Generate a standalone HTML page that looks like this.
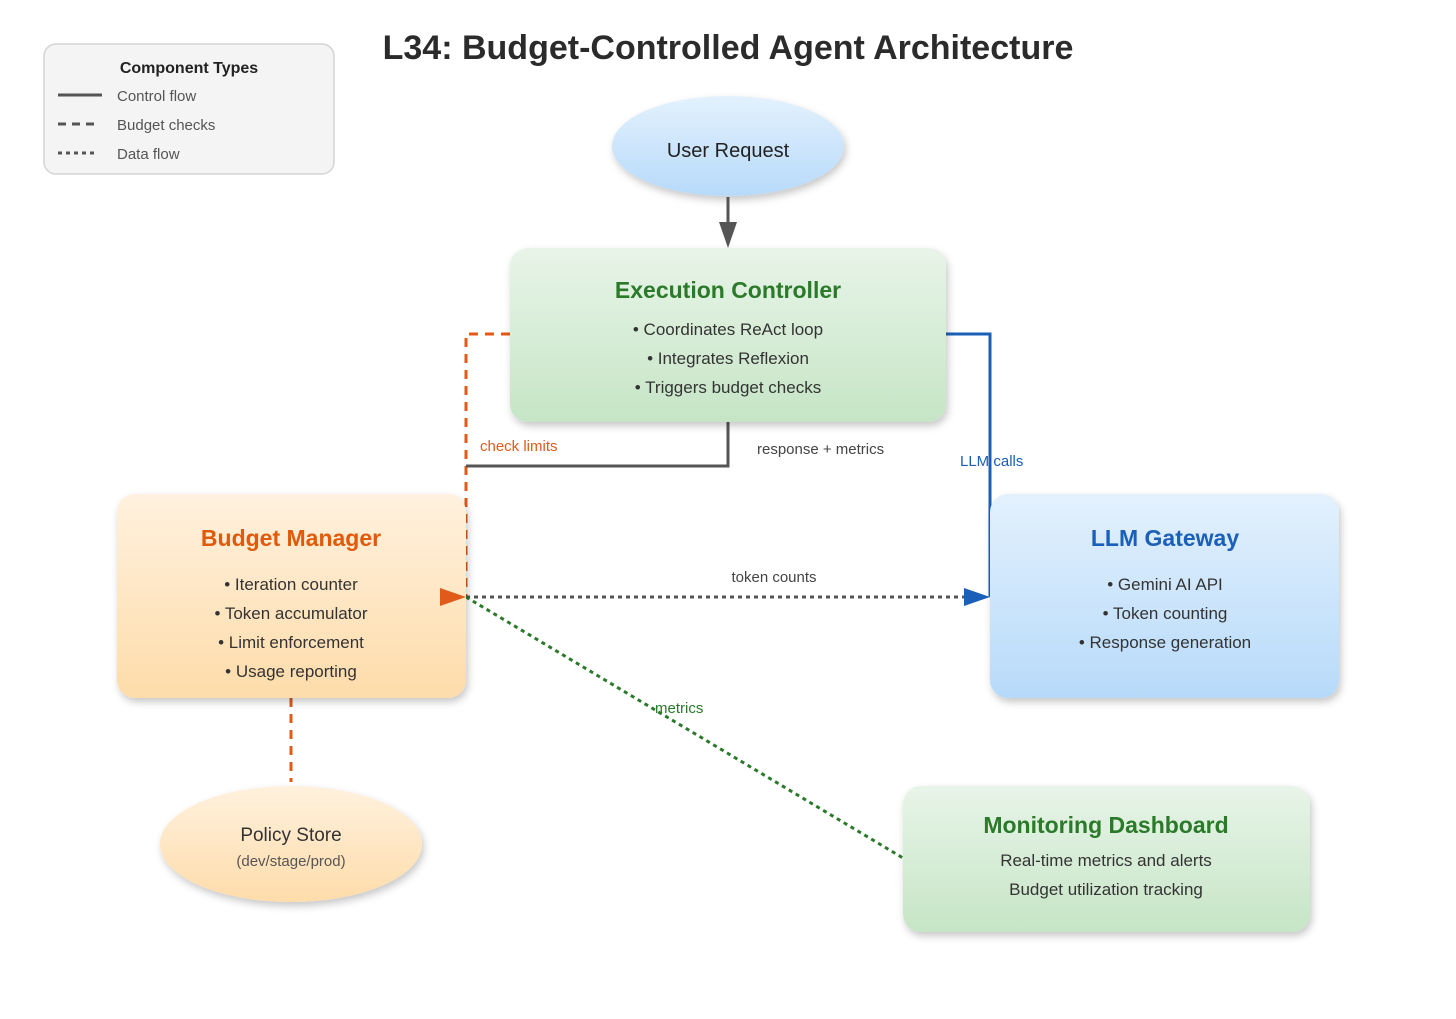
<!DOCTYPE html>
<html><head><meta charset="utf-8"><style>
html,body{margin:0;padding:0;background:#fff;}
svg{display:block;font-family:"Liberation Sans","DejaVu Sans",sans-serif;}
</style></head><body>
<svg width="1456" height="1019" viewBox="0 0 1456 1019" xmlns="http://www.w3.org/2000/svg">
<defs>
<filter id="sh" x="-20%" y="-20%" width="140%" height="150%"><feDropShadow dx="2" dy="4" stdDeviation="4" flood-color="#000" flood-opacity="0.22"/></filter>
<linearGradient id="gg" x1="0" y1="0" x2="0" y2="1"><stop offset="0" stop-color="#e8f4e8"/><stop offset="1" stop-color="#c6e5c6"/></linearGradient>
<linearGradient id="og" x1="0" y1="0" x2="0" y2="1"><stop offset="0" stop-color="#fff1de"/><stop offset="1" stop-color="#fedcaa"/></linearGradient>
<linearGradient id="bg" x1="0" y1="0" x2="0" y2="1"><stop offset="0" stop-color="#e3f1fd"/><stop offset="1" stop-color="#b7dafa"/></linearGradient>
</defs>

<rect x="44" y="44" width="290" height="130" rx="12" fill="#f4f4f4" stroke="#d4d4d4" stroke-width="1.5"/>
<text x="189" y="73" text-anchor="middle" font-size="16" font-weight="bold" fill="#222">Component Types</text>
<line x1="58" y1="95" x2="102" y2="95" stroke="#555" stroke-width="3"/>
<line x1="58" y1="124" x2="98" y2="124" stroke="#555" stroke-width="3" stroke-dasharray="8,6"/>
<line x1="58" y1="153" x2="98" y2="153" stroke="#555" stroke-width="3" stroke-dasharray="4,4"/>
<text x="117" y="101" font-size="15" fill="#555">Control flow</text>
<text x="117" y="130" font-size="15" fill="#555">Budget checks</text>
<text x="117" y="159" font-size="15" fill="#555">Data flow</text>

<text x="728" y="59" text-anchor="middle" font-size="34" font-weight="bold" fill="#2b2b2b">L34: Budget-Controlled Agent Architecture</text>

<ellipse cx="728" cy="146" rx="116" ry="50" fill="url(#bg)" filter="url(#sh)"/>
<text x="728" y="157" text-anchor="middle" font-size="20" fill="#222">User Request</text>

<line x1="728" y1="197" x2="728" y2="224" stroke="#555" stroke-width="3"/>
<polygon points="719,222 737,222 728,248" fill="#555"/>

<!-- connectors -->
<polyline points="510,334 466,334 466,597" fill="none" stroke="#e05a1a" stroke-width="3" stroke-dasharray="9,7"/>
<polyline points="728,422 728,466 466,466" fill="none" stroke="#555" stroke-width="3"/>
<polyline points="946,334 990,334 990,597" fill="none" stroke="#1a5fb8" stroke-width="3"/>
<line x1="466" y1="597" x2="968" y2="597" stroke="#555" stroke-width="3" stroke-dasharray="4,4"/>
<line x1="466" y1="597" x2="903" y2="858" stroke="#2a7a2a" stroke-width="3" stroke-dasharray="4,4"/>
<line x1="291" y1="698" x2="291" y2="782" stroke="#e05a1a" stroke-width="3" stroke-dasharray="9,7"/>

<rect x="510" y="248" width="436" height="174" rx="18" fill="url(#gg)" filter="url(#sh)"/>
<text x="728" y="298" text-anchor="middle" font-size="23" font-weight="bold" fill="#2a7a2a">Execution Controller</text>
<text x="728" y="335" text-anchor="middle" font-size="17" fill="#333">• Coordinates ReAct loop</text>
<text x="728" y="364" text-anchor="middle" font-size="17" fill="#333">• Integrates Reflexion</text>
<text x="728" y="393" text-anchor="middle" font-size="17" fill="#333">• Triggers budget checks</text>

<rect x="117" y="494" width="349" height="204" rx="18" fill="url(#og)" filter="url(#sh)"/>
<text x="291" y="546" text-anchor="middle" font-size="23" font-weight="bold" fill="#e05a0a">Budget Manager</text>
<text x="291" y="590" text-anchor="middle" font-size="17" fill="#333">• Iteration counter</text>
<text x="291" y="619" text-anchor="middle" font-size="17" fill="#333">• Token accumulator</text>
<text x="291" y="648" text-anchor="middle" font-size="17" fill="#333">• Limit enforcement</text>
<text x="291" y="677" text-anchor="middle" font-size="17" fill="#333">• Usage reporting</text>

<rect x="990" y="494" width="349" height="204" rx="18" fill="url(#bg)" filter="url(#sh)"/>
<text x="1165" y="546" text-anchor="middle" font-size="23" font-weight="bold" fill="#1a5fb8">LLM Gateway</text>
<text x="1165" y="590" text-anchor="middle" font-size="17" fill="#333">• Gemini AI API</text>
<text x="1165" y="619" text-anchor="middle" font-size="17" fill="#333">• Token counting</text>
<text x="1165" y="648" text-anchor="middle" font-size="17" fill="#333">• Response generation</text>

<rect x="903" y="786" width="407" height="146" rx="18" fill="url(#gg)" filter="url(#sh)"/>
<text x="1106" y="833" text-anchor="middle" font-size="23" font-weight="bold" fill="#2a7a2a">Monitoring Dashboard</text>
<text x="1106" y="866" text-anchor="middle" font-size="17" fill="#333">Real-time metrics and alerts</text>
<text x="1106" y="895" text-anchor="middle" font-size="17" fill="#333">Budget utilization tracking</text>

<ellipse cx="291" cy="844" rx="131" ry="58" fill="url(#og)" filter="url(#sh)"/>
<text x="291" y="841" text-anchor="middle" font-size="19" fill="#333">Policy Store</text>
<text x="291" y="866" text-anchor="middle" font-size="15" fill="#555">(dev/stage/prod)</text>

<polygon points="440,588 440,606 466,597" fill="#e05a1a"/>
<polygon points="964,588 964,606 990,597" fill="#1a5fb8"/>

<text x="480" y="451" font-size="15" fill="#e05a1a">check limits</text>
<text x="757" y="454" font-size="15" fill="#444">response + metrics</text>
<text x="960" y="466" font-size="15" fill="#1a5fb8">LLM calls</text>
<text x="774" y="582" text-anchor="middle" font-size="15" fill="#444">token counts</text>
<text x="655" y="713" font-size="15" fill="#2a7a2a">metrics</text>
</svg>
</body></html>
